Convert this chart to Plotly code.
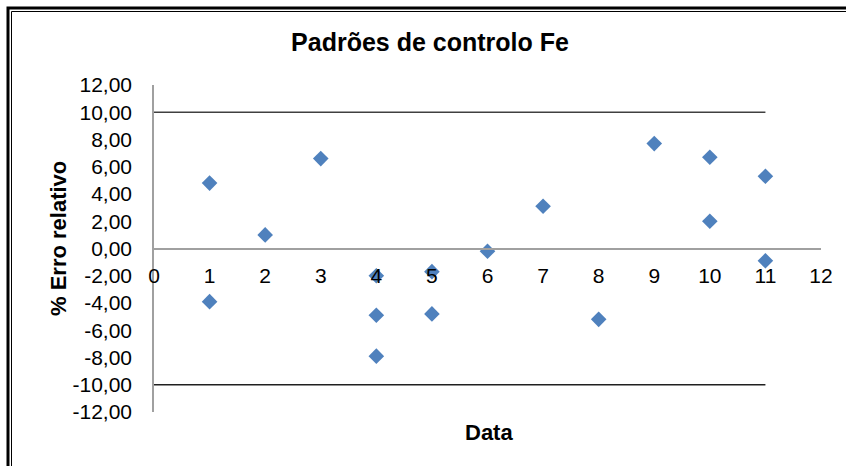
import plotly.graph_objects as go

# dados
data_x = [1, 1, 2, 3, 4, 4, 4, 5, 5, 6, 7, 8, 9, 10, 10, 11, 11]
erro = [4.8, -3.9, 1.0, 6.6, -2.0, -4.9, -7.9, -1.7, -4.8, -0.2, 3.1, -5.2, 7.7, 6.7, 2.0, 5.3, -0.9]

lim_x = [0, 11]
lim_sup = [10, 10]
lim_inf = [-10, -10]

y_ticks = list(range(-12, 14, 2))
y_labels = ['%.2f' % v for v in y_ticks]
y_labels = [s.replace('.', ',') for s in y_labels]
x_ticks = list(range(0, 13))

fig = go.Figure()

fig.add_trace(go.Scatter(x=lim_x, y=lim_sup, mode='lines', line=dict(color='#404040', width=1.5), showlegend=False))
fig.add_trace(go.Scatter(x=lim_x, y=lim_inf, mode='lines', line=dict(color='#202020', width=1.5), showlegend=False))
fig.add_trace(go.Scatter(x=data_x, y=erro, mode='markers',
                         marker=dict(symbol='diamond', size=12, color='#4F81BD'), showlegend=False))

W, H = 846, 466
L, R, T, B = 154, 25, 85, 54
pw, ph = W - L - R, H - T - B

def px(x):
    return (x - L) / pw

def py(y):
    return (H - B - y) / ph

fig.update_layout(
    width=W, height=H,
    margin=dict(l=L, r=R, t=T, b=B, autoexpand=False),
    paper_bgcolor='white', plot_bgcolor='white',
    font=dict(family='Liberation Sans, Arial', size=21, color='black'),
    title=dict(text='<b>Padrões de controlo Fe</b>', x=430 / W, xanchor='center',
               y=1 - 42 / H, yanchor='middle', font=dict(size=25)),
    xaxis=dict(range=[0, 12], tickvals=x_ticks, showgrid=False, zeroline=False,
               showline=True, linecolor='#a0a0a0', linewidth=1.5, automargin=False,
               anchor='free', position=0.5, ticks='', ticklabelstandoff=9),
    yaxis=dict(range=[-12, 12], tickvals=y_ticks, ticktext=y_labels, showgrid=False, zeroline=False,
               showline=True, linecolor='#a0a0a0', linewidth=1.5, automargin=False,
               ticks='', ticklabelstandoff=16),
    annotations=[
        dict(text='<b>% Erro relativo</b>', x=px(58), y=py(239), xref='paper', yref='paper',
             xanchor='center', yanchor='middle', textangle=-90, showarrow=False, font=dict(size=22)),
        dict(text='<b>Data</b>', x=px(489), y=py(432), xref='paper', yref='paper',
             xanchor='center', yanchor='middle', showarrow=False, font=dict(size=22)),
    ],
    shapes=[
        dict(type='rect', xref='paper', yref='paper', x0=px(8), x1=px(860), y0=py(8), y1=py(480),
             line=dict(color='black', width=3)),
        dict(type='rect', xref='paper', yref='paper', x0=px(11.5), x1=px(856), y0=py(11.5), y1=py(476),
             line=dict(color='black', width=1)),
    ],
)

fig.write_html('out.html', config={'displayModeBar': False},
               post_script="document.body.style.margin='0';")
